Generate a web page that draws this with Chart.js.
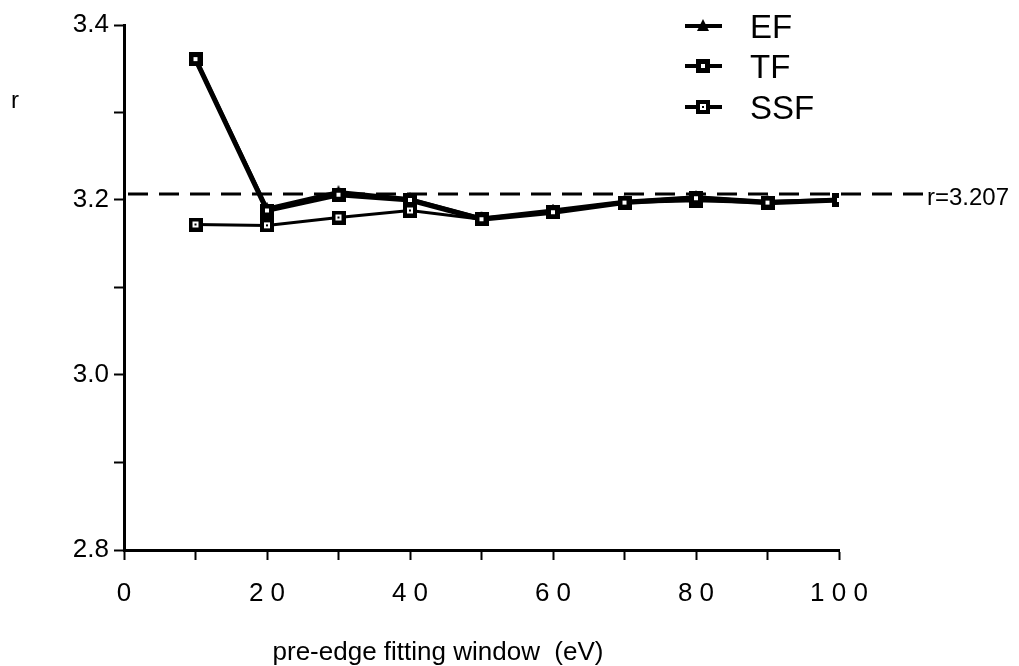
<!DOCTYPE html>
<html>
<head>
<meta charset="utf-8">
<title>r vs pre-edge fitting window</title>
<script src="https://cdn.jsdelivr.net/npm/chart.js@4.4.1/dist/chart.umd.min.js"></script>
<style>
  html, body { margin: 0; padding: 0; background: #fff; }
  #wrap { width: 1019px; height: 666px; }
</style>
</head>
<body>
<div id="wrap"><canvas id="rChart" width="1019" height="666"></canvas></div>
<script>
/* r obtained for each pre-edge fitting window, three fitting schemes */

const windows = [10, 20, 30, 40, 50, 60, 70, 80, 90, 100];
const efR  = [3.361, 3.190, 3.209, 3.201, 3.179, 3.188, 3.198, 3.203, 3.198, 3.200];
const tfR  = [3.361, 3.188, 3.206, 3.200, 3.178, 3.186, 3.197, 3.202, 3.197, 3.200];
const ssfR = [3.172, 3.171, 3.180, 3.188, 3.178, 3.186, 3.197, 3.199, 3.197, 3.200];
const refR = 3.207;

const xTicksMajor = [0, 20, 40, 60, 80, 100];
const yTicksMajor = [2.8, 3.0, 3.2, 3.4];

const FONT = "'Liberation Sans', Arial, Helvetica, sans-serif";

const pts = (ys) => windows.map((x, i) => ({ x, y: ys[i] }));

/* marker glyphs */
function makeMark(kind) {
  const c = document.createElement('canvas');
  c.width = 14; c.height = 14;
  const g = c.getContext('2d');
  g.fillStyle = '#000';
  if (kind === 'tri') {
    g.beginPath();
    g.moveTo(7, 0); g.lineTo(13, 12); g.lineTo(1, 12); g.closePath();
    g.fill();
  } else if (kind === 'solid') {
    g.fillRect(0, 0, 14, 14);
    g.fillStyle = '#fff';
    g.fillRect(5, 5, 4, 4);
  } else {
    g.fillRect(0, 0, 14, 14);
    g.fillStyle = '#fff';
    g.fillRect(4, 4, 6, 6);
    g.fillStyle = '#000';
    g.fillRect(6, 6, 2, 2);
  }
  return c;
}
const triMark = makeMark('tri');
const tfMark = makeMark('solid');
const ssfMark = makeMark('open');

const legendItems = [
  { label: 'EF',  mark: triMark },
  { label: 'TF',  mark: tfMark },
  { label: 'SSF', mark: ssfMark },
];

/* axis titles, reference line and legend */
const decorations = {
  id: 'decorations',
  beforeDatasetsDraw(chart) {
    const { ctx, chartArea, scales } = chart;
    const yRef = scales.y.getPixelForValue(refR);
    ctx.save();
    ctx.strokeStyle = '#000';
    ctx.lineWidth = 3;
    ctx.setLineDash([20, 11]);
    ctx.beginPath();
    ctx.moveTo(chartArea.left + 4, yRef);
    ctx.lineTo(chartArea.right + 86, yRef);
    ctx.stroke();
    ctx.restore();
  },
  afterDraw(chart) {
    const { ctx, chartArea, scales } = chart;
    const yRef = scales.y.getPixelForValue(refR);
    ctx.save();
    ctx.fillStyle = '#000';
    ctx.textBaseline = 'alphabetic';
    ctx.textAlign = 'left';

    ctx.font = '24px ' + FONT;
    ctx.fillText('r=' + refR.toFixed(3), chartArea.right + 88, yRef + 11);

    ctx.fillText('r', 11, 108);

    ctx.textAlign = 'center';
    ctx.font = '26px ' + FONT;
    ctx.fillText('pre-edge fitting window  (eV)', chartArea.left + 314, 660);

    // legend
    const lx = chartArea.right - 154;
    const ys = [26, 66, 107];
    ctx.font = '33px ' + FONT;
    ctx.textAlign = 'left';
    legendItems.forEach((it, i) => {
      const y = ys[i];
      ctx.lineWidth = 4;
      ctx.strokeStyle = '#000';
      ctx.beginPath();
      ctx.moveTo(lx, y);
      ctx.lineTo(lx + 37, y);
      ctx.stroke();
      ctx.drawImage(it.mark, lx + 18 - 7, y - 7);
      ctx.fillText(it.label, lx + 65, y + 12);
    });
    ctx.restore();
  }
};

const ctx = document.getElementById('rChart').getContext('2d');

new Chart(ctx, {
  type: 'line',
  data: {
    datasets: [
      {
        label: 'TF',
        data: pts(tfR),
        borderColor: '#000',
        borderWidth: 5,
        pointStyle: tfMark,
        pointRadius: 7,
        tension: 0,
      },
      {
        label: 'EF',
        data: pts(efR),
        borderColor: '#000',
        borderWidth: 4,
        pointStyle: triMark,
        pointRadius: 7,
        tension: 0,
      },
      {
        label: 'SSF',
        data: pts(ssfR),
        borderColor: '#000',
        borderWidth: 3,
        pointStyle: ssfMark,
        pointRadius: 7,
        tension: 0,
      }
    ]
  },
  options: {
    responsive: false,
    animation: false,
    devicePixelRatio: 1,
    layout: { padding: { left: 0, top: 25, right: 180, bottom: 0 } },
    plugins: {
      legend: { display: false },
      tooltip: { enabled: false },
    },
    scales: {
      x: {
        type: 'linear',
        min: 0,
        max: 100,
        afterFit: (s) => { s.height = 116; },
        ticks: {
          stepSize: 10,
          autoSkip: false,
          maxRotation: 0,
          color: '#000',
          padding: 18,
          font: { family: FONT, size: 26 },
          callback: (v) => xTicksMajor.includes(v) ? String(v).split('').join(' ') : '',
        },
        grid: { drawOnChartArea: false, tickLength: 10, tickColor: '#000', tickWidth: 2 },
        border: { color: '#000', width: 3 },
      },
      y: {
        min: 2.8,
        max: 3.4,
        afterFit: (s) => { s.width = 124; },
        ticks: {
          stepSize: 0.1,
          autoSkip: false,
          color: '#000',
          padding: 5,
          font: { family: FONT, size: 26 },
          callback: (v) => yTicksMajor.some(t => Math.abs(t - v) < 1e-6) ? v.toFixed(1) : '',
        },
        grid: { drawOnChartArea: false, tickLength: 10, tickColor: '#000', tickWidth: 2 },
        border: { color: '#000', width: 3 },
      }
    }
  },
  plugins: [decorations]
});
</script>
</body>
</html>
